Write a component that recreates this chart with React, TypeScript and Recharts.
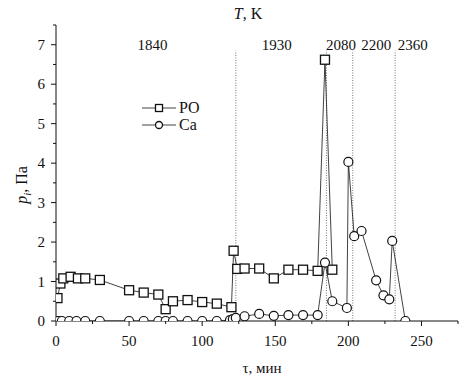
import { LineChart, Line, XAxis, YAxis, ReferenceLine, ReferenceDot } from "recharts";

// PO partial pressure, Pa, vs time, min
const poTime = [1, 3, 5, 10, 15, 20, 30, 50, 60, 70, 75, 80, 90, 100, 110, 120, 121.5, 124, 129, 139, 149, 159, 169, 179, 184, 189];
const poPressure = [0.58, 0.95, 1.08, 1.12, 1.08, 1.08, 1.04, 0.78, 0.72, 0.67, 0.3, 0.5, 0.53, 0.48, 0.44, 0.35, 1.78, 1.32, 1.33, 1.33, 1.08, 1.3, 1.3, 1.27, 6.62, 1.3];

// Ca partial pressure
const caTime = [0, 1.5, 4, 9, 14, 20, 30, 50, 60, 70, 75, 80, 90, 100, 110, 119, 121, 123, 129, 139, 149, 159, 169, 179, 184, 189, 199, 200, 204, 209, 219, 224, 228, 230, 239];
const caPressure = [0, 0, 0, 0, 0, 0, 0, 0, 0, 0, 0, 0, 0, 0, 0, 0.02, 0.05, 0.08, 0.12, 0.18, 0.13, 0.15, 0.15, 0.15, 1.48, 0.5, 0.33, 4.03, 2.15, 2.28, 1.03, 0.65, 0.55, 2.03, 0];

// temperature stages (K) and the times that split them
const stageBounds = [123, 185, 203, 232];
const stageTemps = ["1840", "1930", "2080", "2200", "2360"];
const stageLabelAt = [66, 151, 195, 219, 244];

const xTicks = [0, 25, 50, 75, 100, 125, 150, 175, 200, 225, 250, 275];
const yTicks = [0, 0.5, 1, 1.5, 2, 2.5, 3, 3.5, 4, 4.5, 5, 5.5, 6, 6.5, 7, 7.5];

const poData = poTime.map((t, i) => ({ t, p: poPressure[i] }));
const caData = caTime.map((t, i) => ({ t, p: caPressure[i] }));

const W = 475;
const H = 378;
const FONT = "'Liberation Serif', 'Times New Roman', serif";
const INK = "#111";

function XTick(props: any) {
  const { x, y, payload } = props;
  const major = payload.value % 50 === 0 && payload.value <= 250;
  return (
    <g>
      <line x1={x} x2={x} y1={y} y2={y + (major ? 5 : 3)} stroke={INK} />
      {major && (
        <text x={x} y={y + 25} textAnchor="middle" fontSize={15} fontFamily={FONT} fill={INK}>
          {payload.value}
        </text>
      )}
    </g>
  );
}

function YTick(props: any) {
  const { x, y, payload } = props;
  const major = Number.isInteger(payload.value) && payload.value <= 7;
  return (
    <g>
      <line x1={x} x2={x - (major ? 5 : 3)} y1={y} y2={y} stroke={INK} />
      {major && (
        <text x={x - 11} y={y + 5} textAnchor="end" fontSize={15} fontFamily={FONT} fill={INK}>
          {payload.value}
        </text>
      )}
    </g>
  );
}

function Square(props: any) {
  const { cx, cy, index } = props;
  if (cx == null || cy == null) return <g key={index} />;
  return (
    <rect key={index} x={cx - 4.5} y={cy - 4.5} width={9} height={9} fill="#fff" stroke={INK} strokeWidth={1.3} />
  );
}

export default function App() {
  return (
    <div style={{ position: "absolute", left: 0, top: 0, width: W, height: H, background: "#fff" }}>
      <LineChart
        width={W}
        height={H}
        margin={{ top: 25, right: 17, bottom: 27, left: 16 }}
      >
        <XAxis
          type="number"
          dataKey="t"
          domain={[0, 275]}
          ticks={xTicks}
          interval={0}
          height={30}
          tickSize={0}
          tickMargin={0}
          tickLine={false}
          tick={<XTick />}
          stroke={INK}
          allowDataOverflow
        />
        <YAxis
          type="number"
          dataKey="p"
          domain={[0, 7.5]}
          ticks={yTicks}
          interval={0}
          width={40}
          tickSize={0}
          tickMargin={0}
          tickLine={false}
          tick={<YTick />}
          stroke={INK}
          allowDataOverflow
        />
        {stageBounds.map((t) => (
          <ReferenceLine
            key={t}
            segment={[{ x: t, y: 0 }, { x: t, y: 6.85 }]}
            stroke="#777"
            strokeDasharray="1 1.5"
          />
        ))}
        {stageTemps.map((label, i) => (
          <ReferenceDot
            key={label}
            x={stageLabelAt[i]}
            y={7}
            r={0}
            stroke="none"
            fill="none"
            label={{ value: label, position: "center", fontSize: 15, fontFamily: FONT, fill: INK }}
          />
        ))}
        <Line
          data={poData}
          dataKey="p"
          type="linear"
          stroke={INK}
          strokeWidth={0.8}
          dot={(p: any) => <Square {...p} />}
          isAnimationActive={false}
        />
        <Line
          data={caData}
          dataKey="p"
          type="linear"
          stroke={INK}
          strokeWidth={0.8}
          dot={{ r: 4.5, fill: "#fff", stroke: INK, strokeWidth: 1.2 }}
          isAnimationActive={false}
        />
      </LineChart>
      <svg
        width={W}
        height={H}
        style={{ position: "absolute", left: 0, top: 0, pointerEvents: "none" }}
        fontFamily={FONT}
        fill={INK}
      >
        <text x={248} y={19} textAnchor="middle" fontSize={16}>
          <tspan fontStyle="italic">T</tspan>, K
        </text>
        <text x={262} y={373} textAnchor="middle" fontSize={15}>
          τ, мин
        </text>
        <text transform="translate(27,185) rotate(-90)" textAnchor="middle" fontSize={16}>
          <tspan fontStyle="italic">p</tspan>
          <tspan fontStyle="italic" fontSize={11} dy={4}>i</tspan>
          <tspan dy={-4}>, Па</tspan>
        </text>
        <g stroke={INK} strokeWidth={0.8}>
          <line x1={142} x2={176} y1={108} y2={108} />
          <line x1={142} x2={176} y1={125} y2={125} />
        </g>
        <rect x={155.5} y={104.5} width={7} height={7} fill="#fff" stroke={INK} strokeWidth={1.3} />
        <circle cx={159} cy={125} r={3.5} fill="#fff" stroke={INK} strokeWidth={1.3} />
        <text x={179} y={113} fontSize={16}>PO</text>
        <text x={179} y={130} fontSize={16}>Ca</text>
      </svg>
    </div>
  );
}
